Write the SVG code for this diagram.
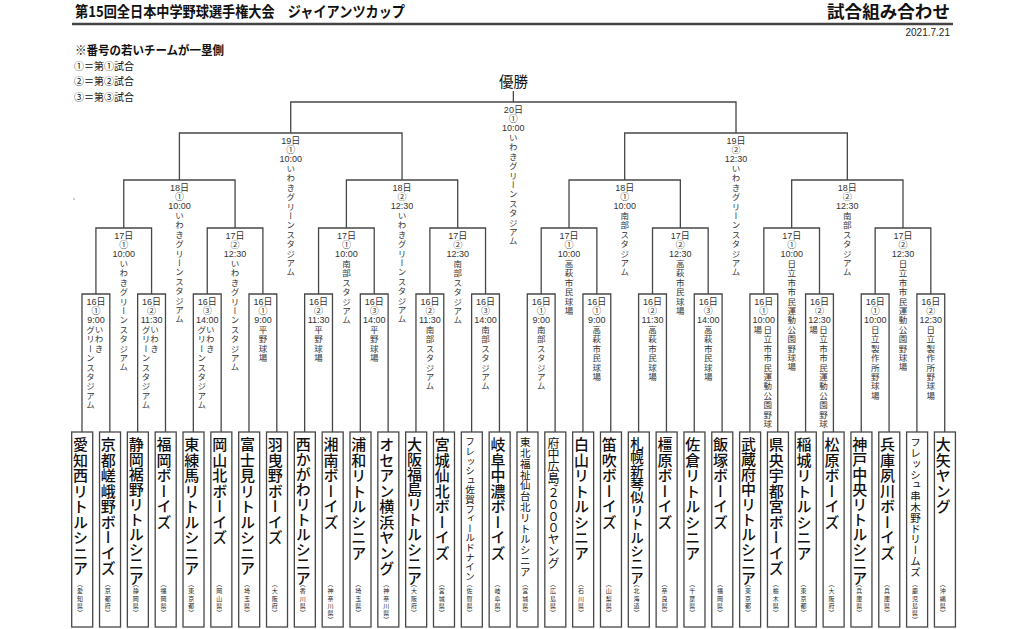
<svg xmlns="http://www.w3.org/2000/svg" width="1024" height="629" viewBox="0 0 1024 629">
<style>
.ln{fill:none;stroke:#474747;stroke-width:1.3}
.bx{fill:#fff;stroke:#474747;stroke-width:1.3}
.nm{writing-mode:vertical-rl;font-family:"Noto Sans CJK JP",sans-serif;font-size:15px;font-weight:500;letter-spacing:0.5px;fill:#111}
.n10{letter-spacing:-0.1px}
.n11{font-size:13.5px;letter-spacing:-0.1px}
.s15{font-size:9.5px;letter-spacing:0.1px;font-weight:400}
.s13{font-size:10.5px;letter-spacing:0.3px;font-weight:400}
.s12{font-size:12px;letter-spacing:-0.3px;font-weight:400}
.pf{writing-mode:vertical-rl;font-family:"Noto Sans CJK JP",sans-serif;font-size:6px;letter-spacing:1.2px;fill:#222}
.lb{font-family:"Liberation Sans","Noto Sans CJK JP",sans-serif;font-size:9px;text-anchor:middle;fill:#333}
.lv{writing-mode:vertical-rl;font-family:"Noto Sans CJK JP",sans-serif;font-size:8.5px;letter-spacing:0.9px;fill:#333}
.hd{font-family:"Noto Sans CJK JP",sans-serif;fill:#111}
</style>
<rect width="1024" height="629" fill="#fff"/>
<g id="header">
<text class="hd" x="75" y="17" font-size="15" font-weight="700" textLength="330" lengthAdjust="spacingAndGlyphs">第15回全日本中学野球選手権大会　ジャイアンツカップ</text>
<text class="hd" x="827" y="18" font-size="17" font-weight="700" textLength="123" lengthAdjust="spacingAndGlyphs">試合組み合わせ</text>
<line x1="72" y1="24" x2="953" y2="24" stroke="#444" stroke-width="2.5"/>
<text x="950" y="36" font-family="Liberation Sans, sans-serif" font-size="10" text-anchor="end" fill="#222">2021.7.21</text>
<text class="hd" x="75" y="55" font-size="12" font-weight="700" textLength="149" lengthAdjust="spacingAndGlyphs">※番号の若いチームが一塁側</text>
<text class="hd" x="74" y="69.5" font-size="10" fill="#333">①＝第①試合</text>
<text class="hd" x="74" y="85" font-size="10" fill="#333">②＝第②試合</text>
<text class="hd" x="74" y="100.5" font-size="10" fill="#333">③＝第③試合</text>
<text class="hd" x="513.4" y="87" font-size="14.5" text-anchor="middle" fill="#222">優勝</text>
<circle cx="74" cy="199" r="0.7" fill="#777"/>
</g>
<g id="connectors">
<path class="ln" d="M82 432V294H109.83V432M137.66 432V294H165.49V432M193.32 432V294H221.15V432M248.98 432V294H276.81V432M304.64 432V294H332.47V432M360.3 432V294H388.13V432M415.96 432V294H443.79V432M471.62 432V294H499.45V432M527.28 432V294H555.11V432M582.94 432V294H610.77V432M638.6 432V294H666.43V432M694.26 432V294H722.09V432M749.92 432V294H777.75V432M805.58 432V294H833.41V432M861.24 432V294H889.07V432M916.9 432V294H944.73V432"/>
<path class="ln" d="M95.92 294V228H151.58V294M207.24 294V228H262.9V294M318.56 294V228H374.22V294M429.88 294V228H485.54V294M541.2 294V228H596.86V294M652.52 294V228H708.18V294M763.84 294V228H819.5V294M875.16 294V228H930.82V294"/>
<path class="ln" d="M123.75 228V180H235.07V228M346.39 228V180H457.71V228M569.03 228V180H680.35V228M791.67 228V180H902.99V228"/>
<path class="ln" d="M179.41 180V133H402.05V180M624.69 180V133H847.33V180"/>
<path class="ln" d="M290.73 133V102H736.01V133M513.37 102V91"/>
</g>
<g id="teams">
<g id="t01" transform="translate(82 0)"><rect class="bx" x="-10.3" y="432" width="21" height="195"/><text class="nm" x="-1.5" y="437">愛知西リトルシニア</text><text class="pf" x="-2" y="581">（愛知県）</text></g>
<g id="t02" transform="translate(109.83 0)"><rect class="bx" x="-10.3" y="432" width="21" height="195"/><text class="nm" x="-1.5" y="437">京都嵯峨野ボーイズ</text><text class="pf" x="-2" y="581">（京都府）</text></g>
<g id="t03" transform="translate(137.66 0)"><rect class="bx" x="-10.3" y="432" width="21" height="195"/><text class="nm n10" x="-1.5" y="437">静岡裾野リトルシニア</text><text class="pf" x="-2" y="581">（静岡県）</text></g>
<g id="t04" transform="translate(165.49 0)"><rect class="bx" x="-10.3" y="432" width="21" height="195"/><text class="nm" x="-1.5" y="437">福岡ボーイズ</text><text class="pf" x="-2" y="581">（福岡県）</text></g>
<g id="t05" transform="translate(193.32 0)"><rect class="bx" x="-10.3" y="432" width="21" height="195"/><text class="nm" x="-1.5" y="437">東練馬リトルシニア</text><text class="pf" x="-2" y="581">（東京都）</text></g>
<g id="t06" transform="translate(221.15 0)"><rect class="bx" x="-10.3" y="432" width="21" height="195"/><text class="nm" x="-1.5" y="437">岡山北ボーイズ</text><text class="pf" x="-2" y="581">（岡山県）</text></g>
<g id="t07" transform="translate(248.98 0)"><rect class="bx" x="-10.3" y="432" width="21" height="195"/><text class="nm" x="-1.5" y="437">富士見リトルシニア</text><text class="pf" x="-2" y="581">（埼玉県）</text></g>
<g id="t08" transform="translate(276.81 0)"><rect class="bx" x="-10.3" y="432" width="21" height="195"/><text class="nm" x="-1.5" y="437">羽曳野ボーイズ</text><text class="pf" x="-2" y="581">（大阪府）</text></g>
<g id="t09" transform="translate(304.64 0)"><rect class="bx" x="-10.3" y="432" width="21" height="195"/><text class="nm n10" x="-1.5" y="437">西かがわリトルシニア</text><text class="pf" x="-2" y="581">（香川県）</text></g>
<g id="t10" transform="translate(332.47 0)"><rect class="bx" x="-10.3" y="432" width="21" height="195"/><text class="nm" x="-1.5" y="437">湘南ボーイズ</text><text class="pf" x="-2" y="581">（神奈川県）</text></g>
<g id="t11" transform="translate(360.3 0)"><rect class="bx" x="-10.3" y="432" width="21" height="195"/><text class="nm" x="-1.5" y="437">浦和リトルシニア</text><text class="pf" x="-2" y="581">（埼玉県）</text></g>
<g id="t12" transform="translate(388.13 0)"><rect class="bx" x="-10.3" y="432" width="21" height="195"/><text class="nm" x="-1.5" y="437">オセアン横浜ヤング</text><text class="pf" x="-2" y="581">（神奈川県）</text></g>
<g id="t13" transform="translate(415.96 0)"><rect class="bx" x="-10.3" y="432" width="21" height="195"/><text class="nm n10" x="-1.5" y="437">大阪福島リトルシニア</text><text class="pf" x="-2" y="581">（大阪府）</text></g>
<g id="t14" transform="translate(443.79 0)"><rect class="bx" x="-10.3" y="432" width="21" height="195"/><text class="nm" x="-1.5" y="437">宮城仙北ボーイズ</text><text class="pf" x="-2" y="581">（宮城県）</text></g>
<g id="t15" transform="translate(471.62 0)"><rect class="bx" x="-10.3" y="432" width="21" height="195"/><text class="nm s15" x="-1.5" y="437">フレッシュ佐賀フィールドナイン</text><text class="pf" x="-2" y="581">（佐賀県）</text></g>
<g id="t16" transform="translate(499.45 0)"><rect class="bx" x="-10.3" y="432" width="21" height="195"/><text class="nm" x="-1.5" y="437">岐阜中濃ボーイズ</text><text class="pf" x="-2" y="581">（岐阜県）</text></g>
<g id="t17" transform="translate(527.28 0)"><rect class="bx" x="-10.3" y="432" width="21" height="195"/><text class="nm s13" x="-2" y="437">東北福祉仙台北リトルシニア</text><text class="pf" x="-2" y="581">（宮城県）</text></g>
<g id="t18" transform="translate(555.11 0)"><rect class="bx" x="-10.3" y="432" width="21" height="195"/><text class="nm s12" x="-1.5" y="437">府中広島’２０００ヤング</text><text class="pf" x="-2" y="581">（広島県）</text></g>
<g id="t19" transform="translate(582.94 0)"><rect class="bx" x="-10.3" y="432" width="21" height="195"/><text class="nm" x="-1.5" y="437">白山リトルシニア</text><text class="pf" x="-2" y="581">（石川県）</text></g>
<g id="t20" transform="translate(610.77 0)"><rect class="bx" x="-10.3" y="432" width="21" height="195"/><text class="nm" x="-1.5" y="437">笛吹ボーイズ</text><text class="pf" x="-2" y="581">（山梨県）</text></g>
<g id="t21" transform="translate(638.6 0)"><rect class="bx" x="-10.3" y="432" width="21" height="195"/><text class="nm n11" x="-1.5" y="437">札幌新琴似リトルシニア</text><text class="pf" x="-2" y="581">（北海道）</text></g>
<g id="t22" transform="translate(666.43 0)"><rect class="bx" x="-10.3" y="432" width="21" height="195"/><text class="nm" x="-1.5" y="437">橿原ボーイズ</text><text class="pf" x="-2" y="581">（奈良県）</text></g>
<g id="t23" transform="translate(694.26 0)"><rect class="bx" x="-10.3" y="432" width="21" height="195"/><text class="nm" x="-1.5" y="437">佐倉リトルシニア</text><text class="pf" x="-2" y="581">（千葉県）</text></g>
<g id="t24" transform="translate(722.09 0)"><rect class="bx" x="-10.3" y="432" width="21" height="195"/><text class="nm" x="-1.5" y="437">飯塚ボーイズ</text><text class="pf" x="-2" y="581">（福岡県）</text></g>
<g id="t25" transform="translate(749.92 0)"><rect class="bx" x="-10.3" y="432" width="21" height="195"/><text class="nm n10" x="-1.5" y="437">武蔵府中リトルシニア</text><text class="pf" x="-2" y="581">（東京都）</text></g>
<g id="t26" transform="translate(777.75 0)"><rect class="bx" x="-10.3" y="432" width="21" height="195"/><text class="nm" x="-1.5" y="437">県央宇都宮ボーイズ</text><text class="pf" x="-2" y="581">（栃木県）</text></g>
<g id="t27" transform="translate(805.58 0)"><rect class="bx" x="-10.3" y="432" width="21" height="195"/><text class="nm" x="-1.5" y="437">稲城リトルシニア</text><text class="pf" x="-2" y="581">（東京都）</text></g>
<g id="t28" transform="translate(833.41 0)"><rect class="bx" x="-10.3" y="432" width="21" height="195"/><text class="nm" x="-1.5" y="437">松原ボーイズ</text><text class="pf" x="-2" y="581">（大阪府）</text></g>
<g id="t29" transform="translate(861.24 0)"><rect class="bx" x="-10.3" y="432" width="21" height="195"/><text class="nm n10" x="-1.5" y="437">神戸中央リトルシニア</text><text class="pf" x="-2" y="581">（兵庫県）</text></g>
<g id="t30" transform="translate(889.07 0)"><rect class="bx" x="-10.3" y="432" width="21" height="195"/><text class="nm" x="-1.5" y="437">兵庫夙川ボーイズ</text><text class="pf" x="-2" y="581">（兵庫県）</text></g>
<g id="t31" transform="translate(916.9 0)"><rect class="bx" x="-10.3" y="432" width="21" height="195"/><text class="nm s13" x="-1.5" y="437">フレッシュ串木野ドリームズ</text><text class="pf" x="-2" y="581">（鹿児島県）</text></g>
<g id="t32" transform="translate(944.73 0)"><rect class="bx" x="-10.3" y="432" width="21" height="195"/><text class="nm" x="-1.5" y="437">大矢ヤング</text><text class="pf" x="-2" y="581">（沖縄県）</text></g>
</g>
<g id="matches">
<g id="r1-01" transform="translate(95.92 294)"><text class="lb" y="10.5">16日</text><text class="lb" y="19.7">①</text><text class="lb" y="28.7">9:00</text><text class="lv" x="3" y="31.5">いわき</text><text class="lv" x="-5.5" y="31.5">グリーンスタジアム</text></g>
<g id="r1-02" transform="translate(151.58 294)"><text class="lb" y="10.5">16日</text><text class="lb" y="19.7">②</text><text class="lb" y="28.7">11:30</text><text class="lv" x="3" y="31.5">いわき</text><text class="lv" x="-5.5" y="31.5">グリーンスタジアム</text></g>
<g id="r1-03" transform="translate(207.24 294)"><text class="lb" y="10.5">16日</text><text class="lb" y="19.7">③</text><text class="lb" y="28.7">14:00</text><text class="lv" x="3" y="31.5">いわき</text><text class="lv" x="-5.5" y="31.5">グリーンスタジアム</text></g>
<g id="r1-04" transform="translate(262.9 294)"><text class="lb" y="10.5">16日</text><text class="lb" y="19.7">①</text><text class="lb" y="28.7">9:00</text><text class="lv" y="31.5">平野球場</text></g>
<g id="r1-05" transform="translate(318.56 294)"><text class="lb" y="10.5">16日</text><text class="lb" y="19.7">②</text><text class="lb" y="28.7">11:30</text><text class="lv" y="31.5">平野球場</text></g>
<g id="r1-06" transform="translate(374.22 294)"><text class="lb" y="10.5">16日</text><text class="lb" y="19.7">③</text><text class="lb" y="28.7">14:00</text><text class="lv" y="31.5">平野球場</text></g>
<g id="r1-07" transform="translate(429.88 294)"><text class="lb" y="10.5">16日</text><text class="lb" y="19.7">②</text><text class="lb" y="28.7">11:30</text><text class="lv" y="31.5">南部スタジアム</text></g>
<g id="r1-08" transform="translate(485.54 294)"><text class="lb" y="10.5">16日</text><text class="lb" y="19.7">③</text><text class="lb" y="28.7">14:00</text><text class="lv" y="31.5">南部スタジアム</text></g>
<g id="r1-09" transform="translate(541.2 294)"><text class="lb" y="10.5">16日</text><text class="lb" y="19.7">①</text><text class="lb" y="28.7">9:00</text><text class="lv" y="31.5">南部スタジアム</text></g>
<g id="r1-10" transform="translate(596.86 294)"><text class="lb" y="10.5">16日</text><text class="lb" y="19.7">①</text><text class="lb" y="28.7">9:00</text><text class="lv" y="31.5">高萩市民球場</text></g>
<g id="r1-11" transform="translate(652.52 294)"><text class="lb" y="10.5">16日</text><text class="lb" y="19.7">②</text><text class="lb" y="28.7">11:30</text><text class="lv" y="31.5">高萩市民球場</text></g>
<g id="r1-12" transform="translate(708.18 294)"><text class="lb" y="10.5">16日</text><text class="lb" y="19.7">③</text><text class="lb" y="28.7">14:00</text><text class="lv" y="31.5">高萩市民球場</text></g>
<g id="r1-13" transform="translate(763.84 294)"><text class="lb" y="10.5">16日</text><text class="lb" y="19.7">①</text><text class="lb" y="28.7">10:00</text><text class="lv" x="4" y="31.5">日立市市民運動公園野球</text><text class="lv" x="-6" y="31.5">場</text></g>
<g id="r1-14" transform="translate(819.5 294)"><text class="lb" y="10.5">16日</text><text class="lb" y="19.7">②</text><text class="lb" y="28.7">12:30</text><text class="lv" x="4" y="31.5">日立市市民運動公園野球</text><text class="lv" x="-6" y="31.5">場</text></g>
<g id="r1-15" transform="translate(875.16 294)"><text class="lb" y="10.5">16日</text><text class="lb" y="19.7">①</text><text class="lb" y="28.7">10:00</text><text class="lv" y="31.5">日立製作所野球場</text></g>
<g id="r1-16" transform="translate(930.82 294)"><text class="lb" y="10.5">16日</text><text class="lb" y="19.7">②</text><text class="lb" y="28.7">12:30</text><text class="lv" y="31.5">日立製作所野球場</text></g>
<g id="r2-1" transform="translate(123.75 228)"><text class="lb" y="10.5">17日</text><text class="lb" y="19.7">①</text><text class="lb" y="28.7">10:00</text><text class="lv" y="31.5">いわきグリーンスタジアム</text></g>
<g id="r2-2" transform="translate(235.07 228)"><text class="lb" y="10.5">17日</text><text class="lb" y="19.7">②</text><text class="lb" y="28.7">12:30</text><text class="lv" y="31.5">いわきグリーンスタジアム</text></g>
<g id="r2-3" transform="translate(346.39 228)"><text class="lb" y="10.5">17日</text><text class="lb" y="19.7">①</text><text class="lb" y="28.7">10:00</text><text class="lv" y="31.5">南部スタジアム</text></g>
<g id="r2-4" transform="translate(457.71 228)"><text class="lb" y="10.5">17日</text><text class="lb" y="19.7">②</text><text class="lb" y="28.7">12:30</text><text class="lv" y="31.5">南部スタジアム</text></g>
<g id="r2-5" transform="translate(569.03 228)"><text class="lb" y="10.5">17日</text><text class="lb" y="19.7">①</text><text class="lb" y="28.7">10:00</text><text class="lv" y="31.5">高萩市民球場</text></g>
<g id="r2-6" transform="translate(680.35 228)"><text class="lb" y="10.5">17日</text><text class="lb" y="19.7">②</text><text class="lb" y="28.7">12:30</text><text class="lv" y="31.5">高萩市民球場</text></g>
<g id="r2-7" transform="translate(791.67 228)"><text class="lb" y="10.5">17日</text><text class="lb" y="19.7">①</text><text class="lb" y="28.7">10:00</text><text class="lv" y="31.5">日立市市民運動公園野球場</text></g>
<g id="r2-8" transform="translate(902.99 228)"><text class="lb" y="10.5">17日</text><text class="lb" y="19.7">②</text><text class="lb" y="28.7">12:30</text><text class="lv" y="31.5">日立市市民運動公園野球場</text></g>
<g id="r3-1" transform="translate(179.41 180)"><text class="lb" y="10.5">18日</text><text class="lb" y="19.7">①</text><text class="lb" y="28.7">10:00</text><text class="lv" y="31.5">いわきグリーンスタジアム</text></g>
<g id="r3-2" transform="translate(402.05 180)"><text class="lb" y="10.5">18日</text><text class="lb" y="19.7">②</text><text class="lb" y="28.7">12:30</text><text class="lv" y="31.5">いわきグリーンスタジアム</text></g>
<g id="r3-3" transform="translate(624.69 180)"><text class="lb" y="10.5">18日</text><text class="lb" y="19.7">①</text><text class="lb" y="28.7">10:00</text><text class="lv" y="31.5">南部スタジアム</text></g>
<g id="r3-4" transform="translate(847.33 180)"><text class="lb" y="10.5">18日</text><text class="lb" y="19.7">②</text><text class="lb" y="28.7">12:30</text><text class="lv" y="31.5">南部スタジアム</text></g>
<g id="r4-1" transform="translate(290.73 133)"><text class="lb" y="10.5">19日</text><text class="lb" y="19.7">①</text><text class="lb" y="28.7">10:00</text><text class="lv" y="31.5">いわきグリーンスタジアム</text></g>
<g id="r4-2" transform="translate(736.01 133)"><text class="lb" y="10.5">19日</text><text class="lb" y="19.7">②</text><text class="lb" y="28.7">12:30</text><text class="lv" y="31.5">いわきグリーンスタジアム</text></g>
<g id="final" transform="translate(513.37 102)"><text class="lb" y="10.5">20日</text><text class="lb" y="19.7">①</text><text class="lb" y="28.7">10:00</text><text class="lv" y="31.5">いわきグリーンスタジアム</text></g>
</g>
</svg>
